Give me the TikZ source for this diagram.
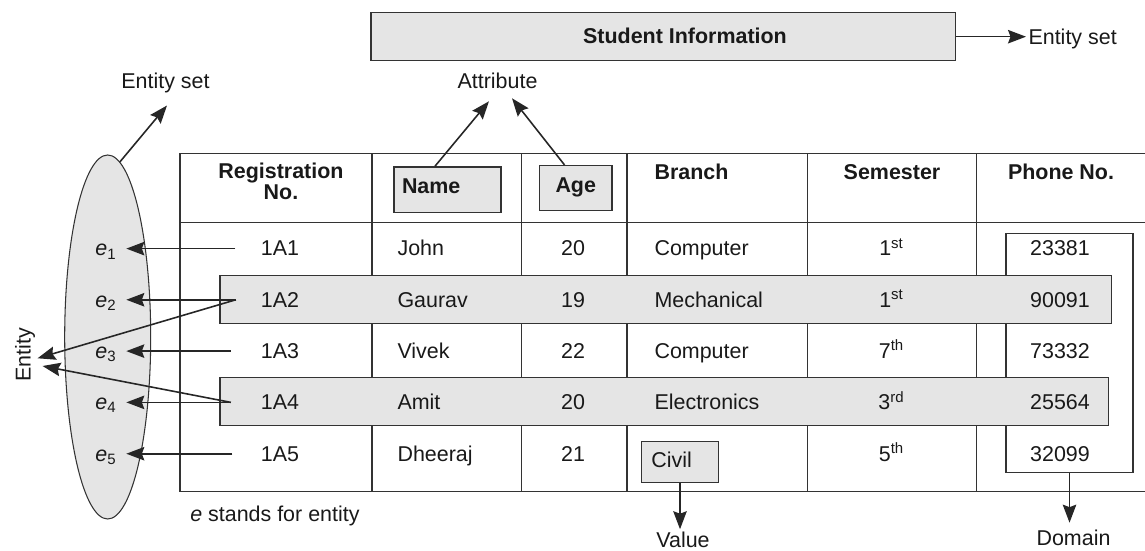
\documentclass[tikz,border=0pt]{standalone}
\usepackage{fontspec}
\setmainfont{Liberation Sans}
\usetikzlibrary{arrows.meta}
\usetikzlibrary{shapes.geometric}

\begin{document}
\fontsize{12.2pt}{12.2pt}\selectfont
\begin{tikzpicture}[
    line width=0.9pt,
    every node/.style={text=black!90},
    shade/.style={draw=black!80, fill=black!10, inner sep=0pt},
    arr/.style={draw=black!85, -{Stealth[length=3.6mm,width=2.7mm,inset=0.5mm]}},
    tbl/.style={draw=black!80},
    hd/.style={font=\bfseries},
    cell/.style={anchor=base, inner sep=1pt},
    lcell/.style={anchor=base west, inner sep=1pt},
    lbl/.style={anchor=base, inner sep=1pt, outer ysep=0.22cm},
    enode/.style={anchor=base, inner sep=1pt, outer xsep=0.16cm}
]
    \useasboundingbox (0,0) rectangle (22.9,11);

    \node[shade, minimum width=11.69cm, minimum height=0.96cm] (info) at (13.265,10.266) {};
    \node[hd, cell] (infotext) at (13.7,10.134) {Student Information};
    \node[anchor=base west, inner sep=1pt] (setright) at (20.52,10.114) {Entity set};
    \draw[arr] (info.east) -- (info.east -| setright.west);

    \node[lbl] (setleft) at (3.31,9.234) {Entity set};
    \node[lbl] (attr) at (9.95,9.234) {Attribute};

    \draw[tbl] (22.9,7.93) -- (3.6,7.93) -- (3.6,1.17) -- (22.9,1.17);
    \draw[tbl] (3.6,6.55) -- (22.9,6.55);
    \foreach \x in {7.44,10.43,12.54,16.15,19.53}
        \draw[tbl] (\x,7.93) -- (\x,1.17);

    \node[hd, align=center, inner sep=1pt] (regno) at (5.62,7.373) {Registration\\No.};
    \node[shade, hd, minimum height=0.914cm, text width=1.82cm, inner xsep=0.16cm, text depth=0.13cm, align=left] (name) at (8.95,7.203) {Name};
    \node[shade, hd, minimum width=1.45cm, minimum height=0.9cm, text depth=0.13cm] (age) at (11.515,7.236) {Age};
    \node[hd, lcell] (branch) at (13.04,7.414) {Branch};
    \node[hd, cell] (sem) at (17.84,7.414) {Semester};
    \node[hd, cell] (phone) at (21.22,7.414) {Phone No.};
    \draw[arr] ([xshift=-0.25cm]name.north) -- ([xshift=-0.17cm]attr.south);
    \draw[arr] ([xshift=-0.225cm]age.north) -- ([xshift=0.29cm,yshift=0.06cm]attr.south);

    \node[draw=black!80, minimum width=2.53cm, minimum height=4.788cm, inner sep=0pt] (domain) at (21.39,3.94) {};
    \node[shade, minimum width=17.83cm, minimum height=0.952cm] (row2) at (13.315,5.01) {};
    \node[shade, minimum width=17.77cm, minimum height=0.968cm] (row4) at (13.285,2.97) {};

    \node[shade, ellipse, line width=0.6pt, minimum width=1.72cm, minimum height=7.28cm] (ell) at (2.154,4.26) {};
    \draw[arr] (ell.86) -- ([xshift=0.03cm]setleft.south);

    \node[enode] (e1) at (2.12,5.88) {\textit{e}\textsubscript{1}};
    \node[cell] (r1) at (5.6,5.88) {1A1};
    \node[lcell] (n1) at (7.9,5.88) {John};
    \node[cell] (a1) at (11.46,5.88) {20};
    \node[lcell] (b1) at (13.04,5.88) {Computer};
    \node[cell] (s1) at (17.83,5.88) {1\textsuperscript{st}};
    \node[cell] (p1) at (21.2,5.88) {23381};

    \node[enode] (e2) at (2.12,4.855) {\textit{e}\textsubscript{2}};
    \node[cell] (r2) at (5.6,4.855) {1A2};
    \node[lcell] (n2) at (7.9,4.855) {Gaurav};
    \node[cell] (a2) at (11.46,4.855) {19};
    \node[lcell] (b2) at (13.04,4.855) {Mechanical};
    \node[cell] (s2) at (17.83,4.855) {1\textsuperscript{st}};
    \node[cell] (p2) at (21.2,4.855) {90091};

    \node[enode] (e3) at (2.12,3.83) {\textit{e}\textsubscript{3}};
    \node[cell] (r3) at (5.6,3.83) {1A3};
    \node[lcell] (n3) at (7.9,3.83) {Vivek};
    \node[cell] (a3) at (11.46,3.83) {22};
    \node[lcell] (b3) at (13.04,3.83) {Computer};
    \node[cell] (s3) at (17.83,3.83) {7\textsuperscript{th}};
    \node[cell] (p3) at (21.2,3.83) {73332};

    \node[enode] (e4) at (2.12,2.805) {\textit{e}\textsubscript{4}};
    \node[cell] (r4) at (5.6,2.805) {1A4};
    \node[lcell] (n4) at (7.9,2.805) {Amit};
    \node[cell] (a4) at (11.46,2.805) {20};
    \node[lcell] (b4) at (13.04,2.805) {Electronics};
    \node[cell] (s4) at (17.83,2.805) {3\textsuperscript{rd}};
    \node[cell] (p4) at (21.2,2.805) {25564};

    \node[enode] (e5) at (2.12,1.78) {\textit{e}\textsubscript{5}};
    \node[cell] (r5) at (5.6,1.78) {1A5};
    \node[lcell] (n5) at (7.9,1.78) {Dheeraj};
    \node[cell] (a5) at (11.46,1.78) {21};
    \node[shade, minimum height=0.812cm, text width=1.146cm, inner xsep=0.2cm, text depth=0.08cm, align=left] (civil) at (13.6,1.76) {Civil};
    \node[cell] (s5) at (17.83,1.78) {5\textsuperscript{th}};
    \node[cell] (p5) at (21.2,1.78) {32099};

    \coordinate (t1) at ([xshift=-0.46cm]r1.west);
    \coordinate (t2) at ([xshift=-0.45cm]r2.west);
    \coordinate (t3) at ([xshift=-0.55cm]r3.west);
    \coordinate (t4) at ([xshift=-0.55cm]r4.west);
    \coordinate (t5) at ([xshift=-0.52cm]r5.west);
    \draw[arr] (t1) -- (t1 -| e1.east);
    \draw[arr] (t2) -- (t2 -| e2.east);
    \draw[arr] (t3) -- (t3 -| e3.east);
    \draw[arr] (t4) -- (t4 -| e4.east);
    \draw[arr] (t5) -- (t5 -| e5.east);

    \node[rotate=90, inner sep=1pt] (ent) at (0.5,3.9) {Entity};
    \draw[arr] (t2) -- ([yshift=-0.066cm]ent.south);
    \draw[arr] (t4) -- ([xshift=0.1cm,yshift=-0.22cm]ent.south);

    \node[anchor=base west, inner sep=0pt] (note) at (3.79,0.58) {\textit{e} stands for entity};
    \node[cell] (value) at (13.66,0.054) {Value};
    \node[cell, inner ysep=0.12cm] (dom) at (21.47,0.1) {Domain};
    \draw[arr] (civil.south) -- (civil.south |- value.north);
    \draw[arr] (domain.south) -- (domain.south |- dom.north);
\end{tikzpicture}
\end{document}
